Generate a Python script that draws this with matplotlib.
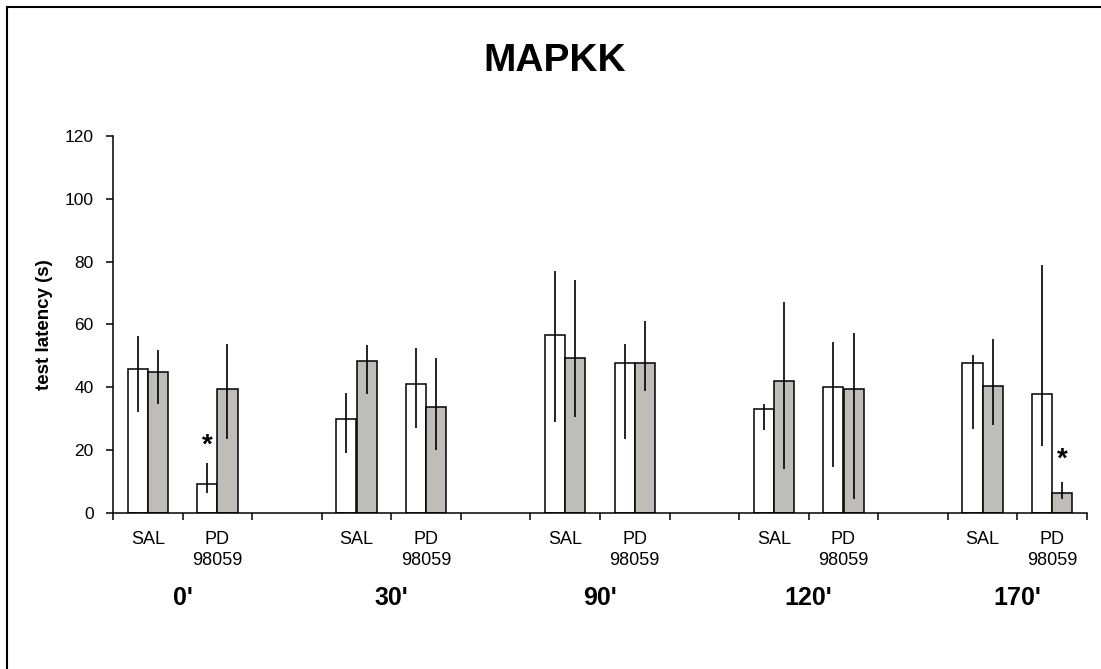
import numpy as np
import matplotlib.pyplot as plt
from matplotlib.patches import Rectangle

# data (order: SAL 0', PD 0', SAL 30', PD 30', ... PD 170')
times = ["0'", "30'", "90'", "120'", "170'"]
treatments = ['SAL', 'PD\n98059']

white_mean = [45.9, 9.4, 30.1, 41.0, 56.8, 47.9, 33.0, 40.0, 47.9, 37.9]
white_hi = [56.2, 15.9, 38.1, 52.4, 77.0, 53.8, 34.6, 54.3, 50.4, 79.0]
white_lo = [32.3, 6.4, 19.1, 27.0, 29.0, 23.5, 26.5, 14.7, 26.9, 21.5]

gray_mean = [44.9, 39.6, 48.5, 33.7, 49.3, 47.9, 41.9, 39.5, 40.5, 6.4]
gray_hi = [51.9, 53.8, 53.4, 49.4, 74.1, 61.2, 67.1, 57.3, 55.3, 9.9]
gray_lo = [34.7, 23.5, 37.8, 20.1, 30.5, 39.0, 14.2, 4.6, 28.0, 4.4]

# significance marks: (bar index, which series, y)
stars = [(1, 'white', 21.5), (9, 'gray', 17.0)]


def main():
    plt.rcParams['font.family'] = 'Liberation Sans'

    fig = plt.figure(figsize=(11.01, 6.69), dpi=100, facecolor='w')
    ax = fig.add_axes([113/1101, 1-513.3/669, 974/1101, 377.6/669])

    # slot positions: SAL, PD, empty gap for each time point
    x = np.array([3*g + k for g in range(len(times)) for k in range(2)])
    w = 0.29
    wm, gm = np.array(white_mean), np.array(gray_mean)

    ax.bar(x - w/2, wm, w, color='white', edgecolor='black', lw=1.1, zorder=1)
    ax.bar(x + w/2, gm, w, color='#c0bdb8', edgecolor='black', lw=1.1, zorder=1)
    ax.errorbar(x - w/2, wm, yerr=[wm - np.array(white_lo), np.array(white_hi) - wm],
                fmt='none', ecolor='black', elinewidth=1.2, capsize=0, zorder=3)
    ax.errorbar(x + w/2, gm, yerr=[gm - np.array(gray_lo), np.array(gray_hi) - gm],
                fmt='none', ecolor='black', elinewidth=1.2, capsize=0, zorder=3)

    for i, s, yv in stars:
        xs = x[i] - w/2 if s == 'white' else x[i] + w/2
        ax.text(xs, yv, '*', ha='center', va='center', fontsize=20, fontweight='bold')

    ax.set_xlim(-0.5, 3*len(times) - 1.5)
    ax.set_ylim(0, 120)
    ax.set_yticks(np.arange(0, 121, 20))
    ax.tick_params(axis='y', direction='out', length=5, width=1.1, pad=9, labelsize=12.5)

    # category labels at slot centres, tick marks at slot borders
    ax.set_xticks(x)
    ax.set_xticklabels(treatments * len(times), fontsize=13, linespacing=1.25)
    ax.tick_params(axis='x', which='major', length=0, pad=13)
    ax.set_xticks(np.arange(-0.5, 3*len(times) - 1, 1), minor=True)
    ax.tick_params(axis='x', which='minor', direction='out', length=5, width=1.1)

    for g, t in enumerate(times):
        ax.text(3*g + 0.5, -0.243, t, transform=ax.get_xaxis_transform(),
                ha='center', va='baseline', fontsize=18, fontweight='bold')

    for sp in ['top', 'right']:
        ax.spines[sp].set_visible(False)
    for sp in ['left', 'bottom']:
        ax.spines[sp].set_linewidth(1.1)

    ax.set_ylabel('test latency (s)', fontsize=13.5, fontweight='bold')
    ax.yaxis.label.set_va('center')
    ax.yaxis.set_label_coords(-0.0708, 0.5)

    fig.text(0.504, 1-71/669, 'MAPKK', ha='center', va='baseline',
             fontsize=28, fontweight='bold')

    # outer frame (only left and top edges are inside the picture)
    fig.add_artist(Rectangle((7/1101, -0.05), 1.2, 1.05 - 6.5/669, fill=False,
                             edgecolor='black', lw=1.5, transform=fig.transFigure))

    fig.savefig('out.png', dpi=100)


if __name__ == '__main__':
    main()
